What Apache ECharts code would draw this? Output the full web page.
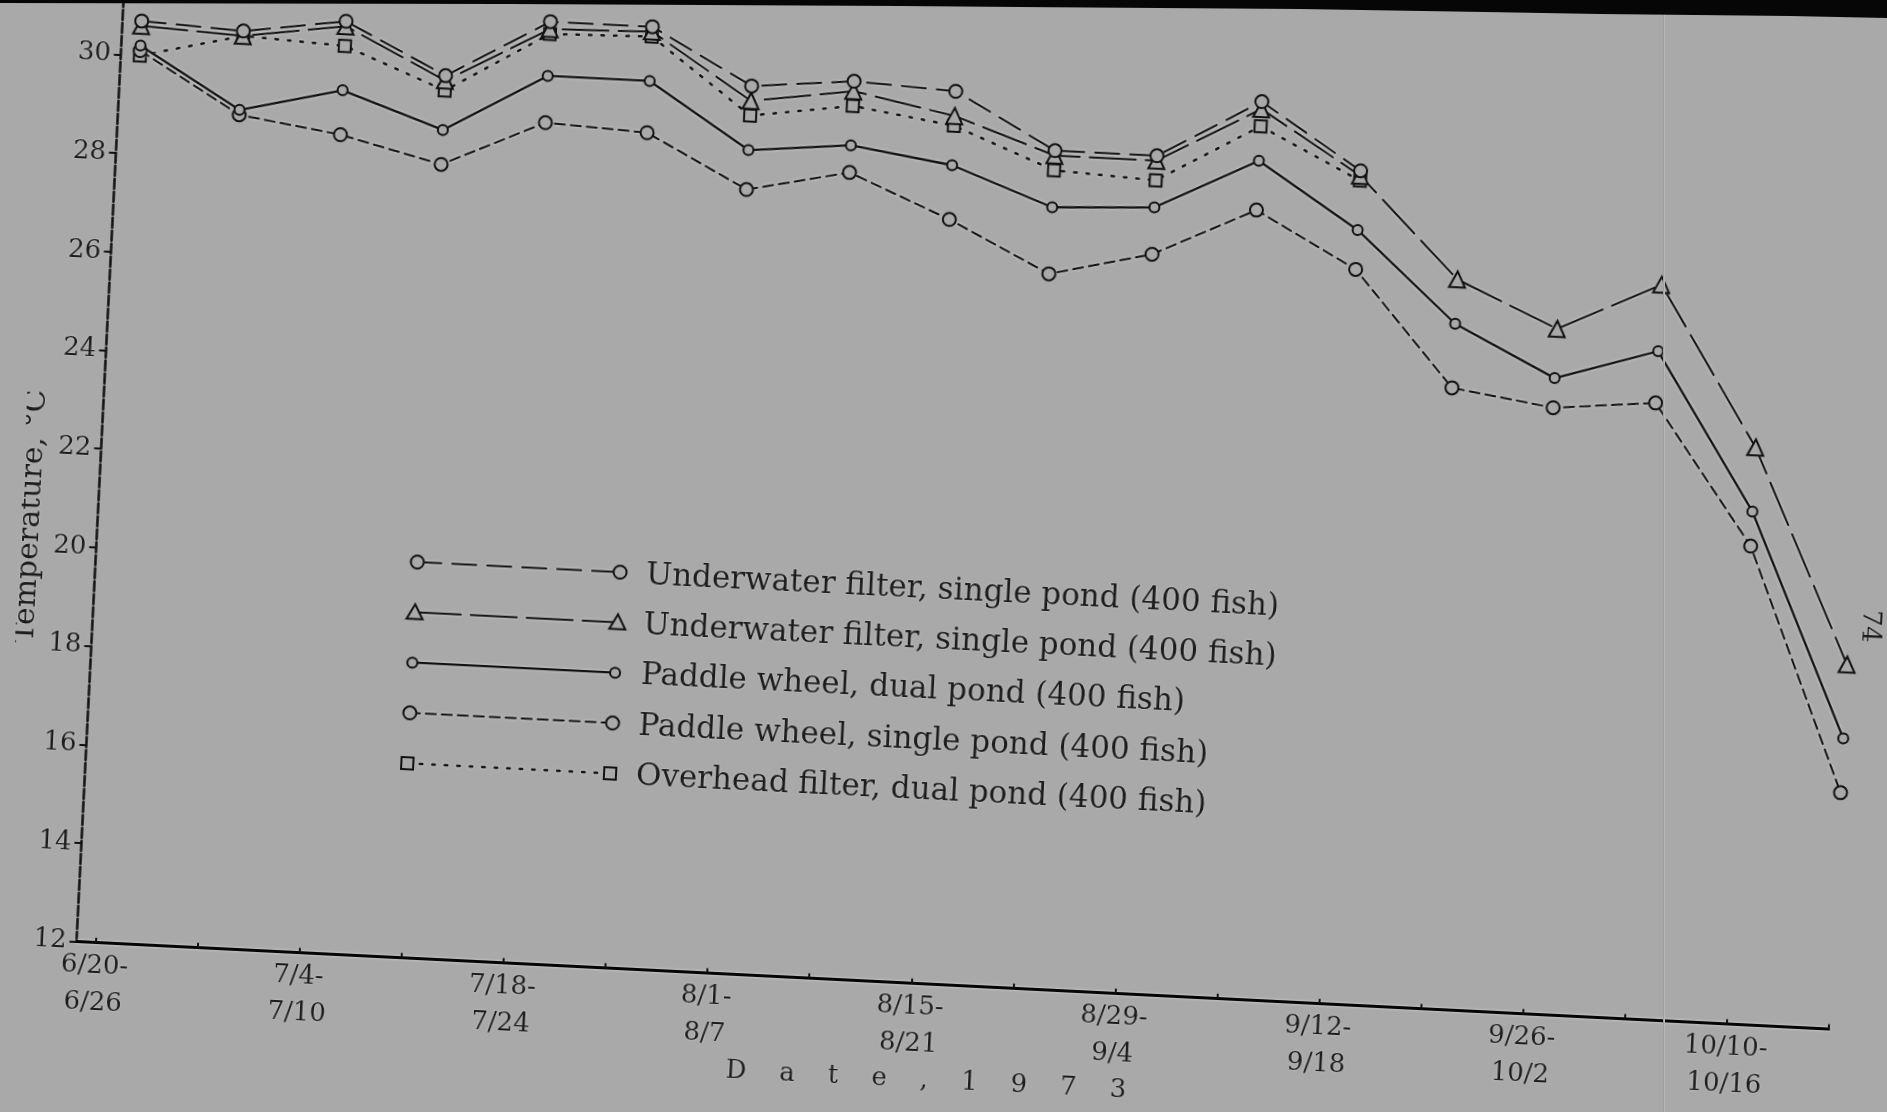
<!DOCTYPE html>
<html><head><meta charset="utf-8">
<script src="https://cdn.jsdelivr.net/npm/echarts@6/dist/echarts.min.js"></script>
<style>
html,body{margin:0;padding:0;width:1887px;height:1112px;overflow:hidden;background:#a9a9a9;}
#chart{position:absolute;left:0;top:-60px;width:1887px;height:1232px;transform-origin:76.5px 1001.7px;transform:rotate(2.86deg);}
#band{position:absolute;left:0;top:0;width:1887px;height:20px;background:#060606;
 clip-path:polygon(0 0,1887px 0,1887px 18px,1790px 16px,1600px 14px,1300px 9px,900px 6px,500px 4px,0 3px);}
#scanline{position:absolute;left:1663px;top:0;width:2px;height:1112px;background:linear-gradient(to right,#929292,#c4c4c4);}
</style></head>
<body>
<div id="chart"></div><div id="scanline"></div><div id="band"></div>
<script>
// ---- data ----
const weeks = ['6/20-6/26','6/27-7/3','7/4-7/10','7/11-7/17','7/18-7/24','7/25-7/31','8/1-8/7','8/8-8/14',
  '8/15-8/21','8/22-8/28','8/29-9/4','9/5-9/11','9/12-9/18','9/19-9/25','9/26-10/2','10/3-10/9','10/10-10/16','10/17-10/23'];
const labeledWeeks = [0,2,4,6,8,10,12,14,16];
const yTicks = [12,14,16,18,20,22,24,26,28,30];
const seriesNames = [
  'Underwater filter, single pond (400 fish)',
  'Underwater filter, single pond (400 fish)',
  'Paddle wheel, dual pond (400 fish)',
  'Paddle wheel, single pond (400 fish)',
  'Overhead filter, dual pond (400 fish)'
];
const underwaterCircle   = [30.7,30.6,30.9,29.9,31.1,31.1,30.0,30.2,30.1,29.0,29.0,30.2,28.9,null,null,null,null,null];
const underwaterTriangle = [30.6,30.5,30.8,29.8,30.95,31.0,29.7,30.0,29.6,28.9,28.9,30.05,28.8,26.8,25.9,26.9,23.7,19.4];
const paddleDual         = [30.2,29.0,29.5,28.8,30.0,30.0,28.7,28.9,28.6,27.85,27.95,29.0,27.7,25.9,24.9,25.55,22.4,17.9];
const paddleSingle       = [30.1,28.9,28.6,28.1,29.05,28.95,27.9,28.35,27.5,26.5,27.0,28.0,26.9,24.6,24.3,24.5,21.7,16.8];
const overheadDual       = [30.0,30.5,30.4,29.6,30.85,30.9,29.4,29.7,29.4,28.6,28.5,29.7,28.7,null,null,null,null,null];

// ---- styles ----
const BG = '#a9a9a9', INK = '#111111', TXT = '#1c1c1c', FONT = '"DejaVu Serif", "Liberation Serif", serif';
const HALO = 'rgba(255,255,255,0.55)';
const styles = [
  {symbol:'circle',   size:13, dash:[24,11], width:2},
  {symbol:'triangle', size:16, dash:[46,10], width:2},
  {symbol:'circle',   size:10, dash:'solid', width:2.3},
  {symbol:'circle',   size:13, dash:[10,6],  width:2},
  {symbol:'rect',     size:12, dash:[2.5,10], width:2.5}
];
const allData = [underwaterCircle, underwaterTriangle, paddleDual, paddleSingle, overheadDual];

function toPairs(arr){ const out=[]; arr.forEach((v,i)=>{ if(v!=null) out.push([i,v]); }); return out; }

const series = allData.map((arr,k)=>({
  name: seriesNames[k] + (k===1?' ':''),
  type:'line',
  data: toPairs(arr),
  symbol: styles[k].symbol,
  symbolSize: styles[k].size,
  clip:false,
  lineStyle:{color:INK, width:styles[k].width, type:styles[k].dash, cap:'round', shadowColor:HALO, shadowBlur:3},
  itemStyle:{color:BG, borderColor:INK, borderWidth:2},
  z: 2 + (4-k)
}));

// ---- legend drawn as graphics (row layout) ----
const legX1 = 398, legX2 = 601, legText = 627, legY0 = 605.5, legStep = 50.35;
function marker(sym, x, y, size){
  const st = {fill:BG, stroke:INK, lineWidth:2};
  if(sym==='circle') return {type:'circle', shape:{cx:x, cy:y, r:size/2}, style:st, z:10};
  if(sym==='triangle') return {type:'polygon', shape:{points:[[x,y-size/2],[x+size/2,y+size/2.4],[x-size/2,y+size/2.4]]}, style:st, z:10};
  return {type:'rect', shape:{x:x-size/2, y:y-size/2, width:size, height:size}, style:st, z:10};
}
const textHalo = {textShadowColor:'rgba(255,255,255,0.45)', textShadowBlur:2};
const graphics = [];
seriesNames.forEach((nm,k)=>{
  const y = legY0 + k*legStep, s = styles[k];
  graphics.push({type:'line', shape:{x1:legX1, y1:y, x2:legX2, y2:y},
    style:{stroke:INK, lineWidth:s.width, lineDash: s.dash==='solid'?null:s.dash, lineCap:'round', shadowColor:HALO, shadowBlur:3}, z:9});
  graphics.push(marker(s.symbol, legX1, y, s.size));
  graphics.push(marker(s.symbol, legX2, y, s.size));
  graphics.push({type:'text', x:legText, y:y+2, z:10,
    style:Object.assign({text:nm, fill:TXT, fontSize:31, fontFamily:FONT, verticalAlign:'middle', align:'left'}, textHalo)});
});
graphics.push({type:'text', x:10, y:579, rotation:Math.PI/2, z:10,
  style:Object.assign({text:'Temperature, °C', fill:TXT, fontSize:30, fontFamily:FONT, align:'center', verticalAlign:'middle'}, textHalo)});
graphics.push({type:'text', x:1852, y:597, rotation:-Math.PI/2, z:10,
  style:Object.assign({text:'74', fill:TXT, fontSize:26, fontFamily:FONT, align:'center', verticalAlign:'middle'}, textHalo)});

const chart = echarts.init(document.getElementById('chart'), null, {renderer:'canvas'});
chart.setOption({
  backgroundColor:'transparent',
  animation:false,
  grid:{left:76.5, right:56.1, top:39.4, bottom:230.3, containLabel:false},
  xAxis:{
    type:'value', min:-0.188, max:17,
    name:'D    a    t    e    ,    1    9    7    3',
    nameLocation:'middle', nameGap:80,
    nameTextStyle:Object.assign({fontSize:26, fontFamily:FONT, color:TXT, padding:[0,44,0,0]}, textHalo),
    axisLine:{show:true, onZero:false, lineStyle:{color:'#050505', width:3, shadowColor:HALO, shadowBlur:3}},
    axisTick:{show:true, inside:true, length:5, customValues: weeks.map((w,i)=>i), lineStyle:{color:INK, width:2}},
    axisLabel:Object.assign({show:true, customValues: labeledWeeks, margin:5, fontSize:26, lineHeight:37, fontFamily:FONT, color:TXT,
      formatter:(v)=> (weeks[Math.round(v)]||'').replace('-', '-\n')}, textHalo),
    splitLine:{show:false}
  },
  yAxis:{
    type:'value', min:12, max:31.5, interval:2,
    axisLine:{show:true, onZero:false, lineStyle:{color:INK, width:2.5, type:[10,3]}},
    axisTick:{show:true, length:7, customValues: yTicks, lineStyle:{color:INK, width:2}},
    axisLabel:Object.assign({show:true, customValues: yTicks, margin:10, fontSize:26, fontFamily:FONT, color:TXT}, textHalo),
    splitLine:{show:false}
  },
  graphic: graphics,
  series: series
});
</script>
</body></html>
